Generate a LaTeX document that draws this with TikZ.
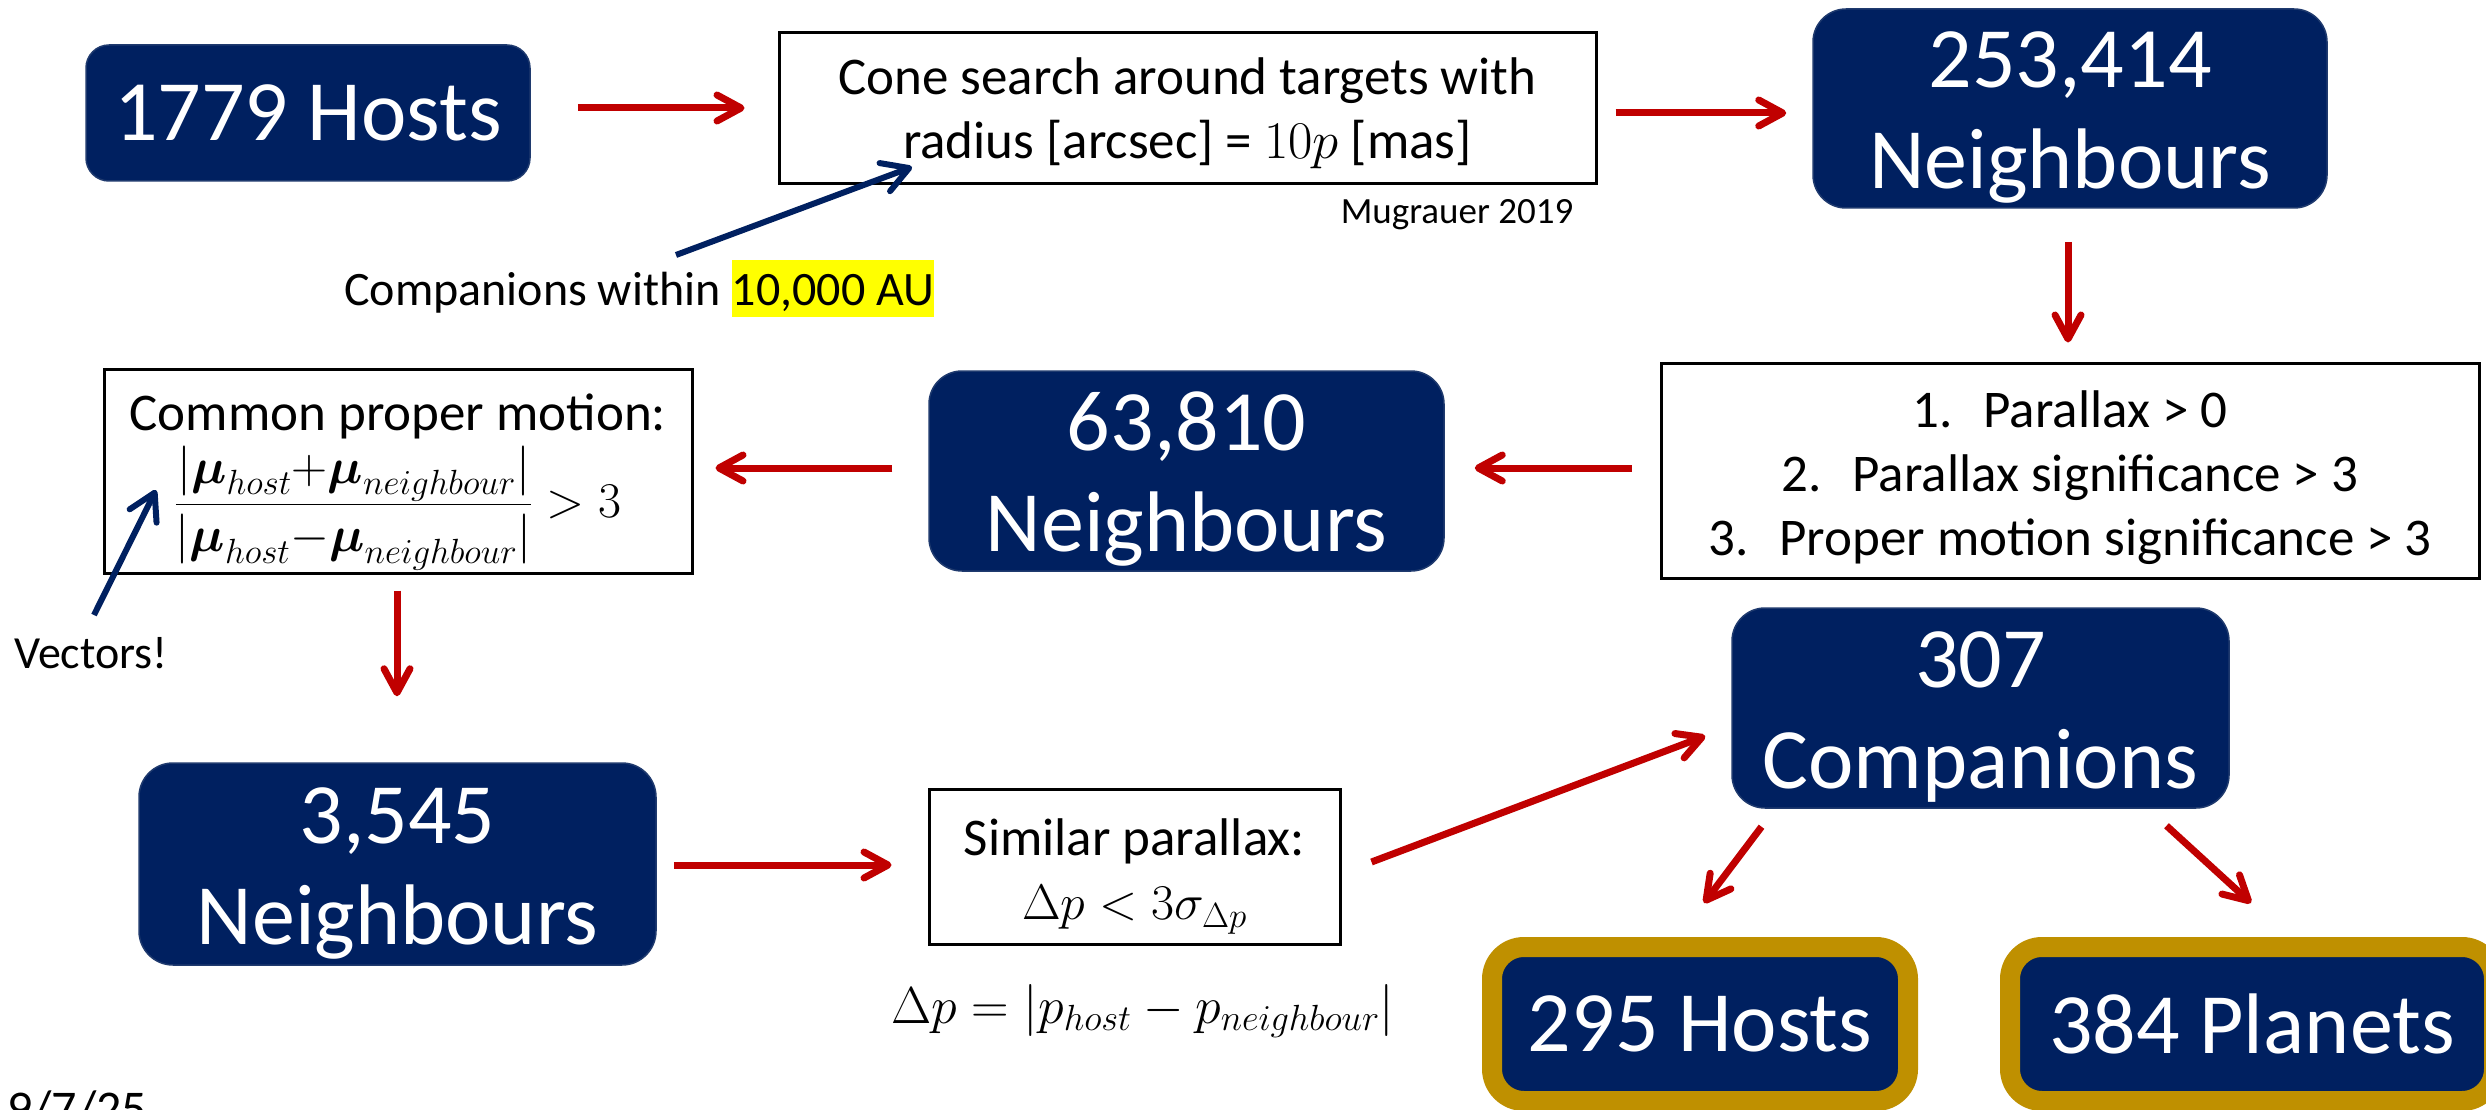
\RequirePackage{fix-cm}
\documentclass[tikz,border=0pt]{standalone}
\usepackage{amsmath}
\usepackage[no-math]{fontspec}
\setmainfont{Carlito}
\usetikzlibrary{arrows.meta}
\definecolor{navy}{HTML}{002060}
\definecolor{navyedge}{HTML}{1F3A6E}
\definecolor{arrowred}{HTML}{C00000}
\definecolor{gold}{HTML}{BF9000}
\definecolor{hlyellow}{HTML}{FFFF00}
\newcommand\bigtxt{\fontsize{86}{101}\selectfont}
\newcommand\boxtxt{\fontsize{53}{64}\selectfont}
\newcommand\annottxt{\fontsize{48}{58}\selectfont}
\begin{document}
\begin{tikzpicture}[x=1pt,y=-1pt,
  navybox/.style={fill=navy, draw=navyedge, line width=1.5pt, text=white, align=center, inner sep=0pt, font=\bigtxt},
  goldbox/.style={fill=navy, draw=gold, line width=20pt, text=white, inner sep=0pt, font=\bigtxt},
  plainbox/.style={draw=black, line width=3pt, fill=white, align=center, inner sep=0pt, font=\boxtxt},
  redarr/.style={draw=arrowred, line width=7pt, -{Straight Barb[length=24pt,width=26pt,round]}},
  bluearr/.style={draw=navy, line width=6pt, -{Straight Barb[length=26pt,width=30pt,round]}}]
\useasboundingbox (0,0) rectangle (2486,1110);
\clip (0,0) rectangle (2486,1110);
\fill[white] (0,0) rectangle (2486,1110);

% main nodes
\node[navybox, rounded corners=23pt, minimum width=444pt, minimum height=136pt] (hosts) at (308,113) {1779 Hosts};
\node[plainbox, minimum width=817pt, minimum height=151pt] (cone) at (1187.5,108.5) {\rule{0pt}{47pt}Cone search around targets with\\ radius [arcsec] = $10p$ [mas]};
\node[navybox, rounded corners=33pt, minimum width=514pt, minimum height=199pt] (n253) at (2070,108.5) {\rule{0pt}{74pt}253,414\\Neighbours};
\node[plainbox, minimum width=818pt, minimum height=215pt] (crit) at (2070,470.5) {\rule{0pt}{51pt}\makebox[71pt][l]{1.}Parallax > 0\\ \makebox[71pt][l]{2.}Parallax significance > 3\\ \makebox[71pt][l]{3.}Proper motion significance > 3};
\node[navybox, rounded corners=33pt, minimum width=515pt, minimum height=200pt] (n63810) at (1186.5,471) {\rule{0pt}{74pt}63,810\\Neighbours};
\node[plainbox, minimum width=588pt, minimum height=204pt] (cpm) at (398,471) {\rule{0pt}{58pt}Common proper motion:\\[6pt] {\fontsize{50}{60}\selectfont $\displaystyle\frac{|\boldsymbol{\mu}_{host}{+}\boldsymbol{\mu}_{neighbour}|}{|\boldsymbol{\mu}_{host}{-}\boldsymbol{\mu}_{neighbour}|}>3$}};
\node[navybox, rounded corners=34pt, minimum width=517pt, minimum height=202pt] (n3545) at (397.5,864) {\rule{0pt}{74pt}3,545\\Neighbours};
\node[plainbox, minimum width=411pt, minimum height=155pt] (simpar) at (1134.5,866.5) {\rule{0pt}{57pt}Similar parallax:\\ {\fontsize{50}{60}\selectfont$\Delta p<3\sigma_{\Delta p}$}};
\node[navybox, rounded corners=33pt, minimum width=497pt, minimum height=200pt] (comp) at (1980.5,708) {\rule{0pt}{74pt}307\\Companions};
\node[goldbox, rounded corners=32pt, minimum width=416pt, minimum height=154pt] (h295) at (1700,1024) {295 Hosts};
\node[goldbox, rounded corners=32pt, minimum width=484pt, minimum height=154pt] (p384) at (2252,1024) {384 Planets};

% annotations
\node[anchor=base west, inner sep=0pt, font=\annottxt] (compannot) at (344,305) {Companions within {\setlength{\fboxsep}{0pt}\colorbox{hlyellow}{\rule[-12pt]{0pt}{57pt}10,000 AU}}};
\node[inner sep=0pt, font=\fontsize{37}{44}\selectfont] (mug) at (1457,215) {Mugrauer 2019};
\node[inner sep=0pt, font=\fontsize{46}{55}\selectfont] (vectors) at (91,653) {Vectors!};
\node[anchor=base, inner sep=0pt, font=\fontsize{52}{62}\selectfont] (dpdef) at (1143,1023) {$\Delta p=\left|p_{host}-p_{neighbour}\right|$};
\node[anchor=base west, inner sep=0pt, font=\fontsize{50}{60}\selectfont] (date) at (7,1125) {9/7/25};

\coordinate (radiuspt) at (912,167);
\coordinate (fracpt) at (156,490);

% red connectors
\draw[redarr] ([shift={(47,-5)}]hosts.east) -- ([shift={(-33,-0.5)}]cone.west);
\draw[redarr] ([shift={(18,4.5)}]cone.east) -- ([shift={(-26,4.5)}]n253.west);
\draw[redarr] ([shift={(-2,33)}]n253.south) -- ([shift={(-2,-19)}]crit.north);
\draw[redarr] ([shift={(-28,-2.5)}]crit.west) -- ([shift={(30,-3)}]n63810.east);
\draw[redarr] ([shift={(-36,-3)}]n63810.west) -- ([shift={(22,-3)}]cpm.east);
\draw[redarr] ([shift={(-1,16)}]cpm.south) -- ([shift={(-0.5,-66)}]n3545.north);
\draw[redarr] ([shift={(17,1)}]n3545.east) -- ([shift={(-36,-1.5)}]simpar.west);
\draw[redarr] ([shift={(30,-4.5)}]simpar.east) -- ([shift={(-26,28)}]comp.west);
\draw[redarr] ([shift={(-219,18)}]comp.south) -- ([shift={(4,-34)}]h295.north);
\draw[redarr] ([shift={(186,17)}]comp.south) -- ([shift={(-1,-34)}]p384.north);

% blue pointers
\draw[bluearr] ([shift={(332,-50)}]compannot.base west) -- (radiuspt);
\draw[bluearr] ([shift={(3,-38)}]vectors.center) -- (fracpt);
\end{tikzpicture}
\end{document}
